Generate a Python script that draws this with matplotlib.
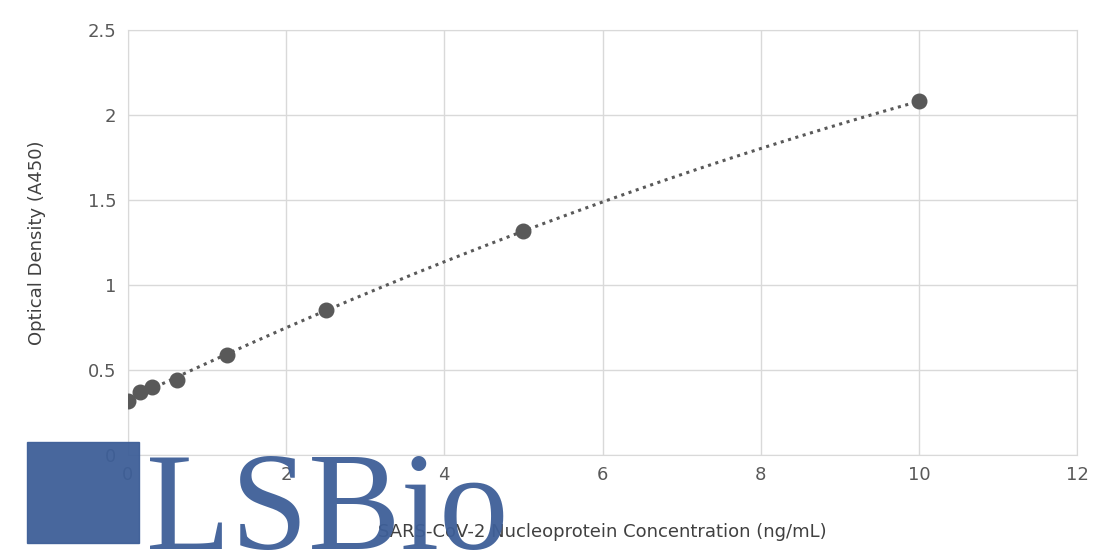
import matplotlib
matplotlib.use("Agg")
import matplotlib.pyplot as plt
import numpy as np

conc = [0, 0.156, 0.313, 0.625, 1.25, 2.5, 5, 10]
od = [0.32, 0.37, 0.40, 0.44, 0.59, 0.85, 1.32, 2.08]

fig = plt.figure(figsize=(11.2, 5.6), dpi=100)
ax = fig.add_axes([0.114, 0.1875, 0.848, 0.759])
ax.set_xlim(0, 12)
ax.set_ylim(0, 2.5)
ax.set_xticks(range(0, 13, 2))
ax.set_yticks([0, 0.5, 1, 1.5, 2, 2.5])
ax.set_yticklabels(["0", "0.5", "1", "1.5", "2", "2.5"])
ax.grid(True, color="#d9d9d9", linewidth=1)
ax.set_axisbelow(True)
for s in ax.spines.values():
    s.set_color("#d9d9d9")
ax.tick_params(length=0, labelsize=13, colors="#595959", pad=8)

c = np.polyfit(conc, od, 2)
xs = np.linspace(0, 10, 200)
ax.plot(xs, np.polyval(c, xs), linestyle=(0, (1, 1.5)), color="#595959", linewidth=2.2, zorder=2)
ax.scatter(conc, od, s=110, color="#595959", zorder=3)

ax.set_xlabel("SARS-CoV-2 Nucleoprotein Concentration (ng/mL)", fontsize=13, color="#404040", labelpad=28)
ax.set_ylabel("Optical Density (A450)", fontsize=13, color="#404040", labelpad=30)

fig.text(0.13, 0.02, "LSBio", fontsize=100, family="Liberation Serif", color="#3e5f98", alpha=0.95)
fig.patches.append(plt.Rectangle((0.024, 0.03), 0.1, 0.18, transform=fig.transFigure,
                                 color="#3e5f98", alpha=0.95))
fig.savefig("out.png", dpi=100)
